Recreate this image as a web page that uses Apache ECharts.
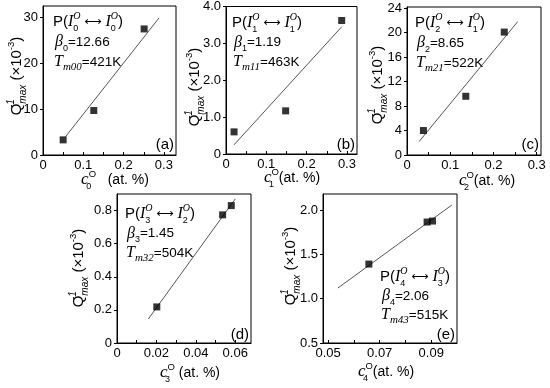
<!DOCTYPE html>
<html><head><meta charset="utf-8">
<script src="https://cdn.jsdelivr.net/npm/echarts@6/dist/echarts.min.js"></script>
<style>html,body{margin:0;padding:0;background:#fff}#c{width:550px;height:388px}</style>
</head><body><div id="c"></div>
<script>
// ---------- data ----------
const xA = [0.05, 0.126, 0.251];
const yA = [3.3, 9.7, 27.5];
const fitA = [[0.056, 4.0], [0.288, 29.9]];

const xB = [0.02, 0.148, 0.287];
const yB = [0.6, 1.17, 3.62];
const fitB = [[0.02, 0.25], [0.287, 3.45]];

const xC = [0.038, 0.136, 0.225];
const yC = [4.0, 9.6, 20.1];
const fitC = [[0.028, 2.2], [0.256, 21.8]];

const xD = [0.0202, 0.0536, 0.058];
const yD = [0.218, 0.774, 0.83];
const fitD = [[0.0159, 0.145], [0.06, 0.87]];

const xE = [0.0658, 0.0884, 0.0905];
const yE = [1.39, 1.864, 1.875];
const fitE = [[0.0538, 1.12], [0.098, 2.056]];

// ---------- tick labels ----------
const xTicksABC = [0, 0.1, 0.2, 0.3];
const xLabelsABC = ['0', '0.1', '0.2', '0.3'];
const xMinorABC = [0.05, 0.15, 0.25];
const yTicksA = [0, 10, 20, 30];
const yLabelsA = ['0', '10', '20', '30'];
const yTicksB = [0, 1, 2, 3, 4];
const yLabelsB = ['0', '1.0', '2.0', '3.0', '4.0'];
const yTicksC = [0, 4, 8, 12, 16, 20, 24];
const yLabelsC = ['0', '4', '8', '12', '16', '20', '24'];
const xTicksD = [0, 0.02, 0.04, 0.06];
const xLabelsD = ['0', '0.02', '0.04', '0.06'];
const xMinorD = [0.01, 0.03, 0.05];
const yTicksD = [0, 0.2, 0.4, 0.6, 0.8];
const yLabelsD = ['0', '0.2', '0.4', '0.6', '0.8'];
const xTicksE = [0.05, 0.07, 0.09];
const xLabelsE = ['0.05', '0.07', '0.09'];
const xMinorE = [0.06, 0.08];
const yTicksE = [0.5, 1.0, 1.5, 2.0];
const yLabelsE = ['0.5', '1.0', '1.5', '2.0'];

// ---------- annotation texts ----------
const pFrom = ['0', '1', '2', '3', '4'];
const pTo = ['0', '1', '1', '2', '3'];
const betaVals = ['12.66', '1.19', '8.65', '1.45', '2.06'];
const tmSubs = ['m00', 'm11', 'm21', 'm32', 'm43'];
const tmVals = ['421K', '463K', '522K', '504K', '515K'];
const panelTags = ['(a)', '(b)', '(c)', '(d)', '(e)'];

// ---------- layout ----------
const SANS = '"Liberation Sans", Arial, sans-serif';
const SERIF = '"Liberation Serif", "Times New Roman", serif';

const panels = [
  {grid:{left:43,top:6,width:133,height:149}, x:xA, y:yA, fit:fitA, xr:[0,0.33], yr:[0,32.5],
   xt:xTicksABC, xl:xLabelsABC, xm:xMinorABC, yt:yTicksA, yl:yLabelsA,
   ann:[53,22,20], xname:[115,180,'0','   '], yname:[17,76], tag:[174,145]},
  {grid:{left:226,top:6,width:131,height:148}, x:xB, y:yB, fit:fitB, xr:[0,0.325], yr:[0,4.0],
   xt:xTicksABC, xl:xLabelsABC, xm:xMinorABC, yt:yTicksB, yl:yLabelsB,
   ann:[232,23,19.5], xname:[292,178,'1',''], yname:[195,87], tag:[355,145]},
  {grid:{left:407,top:7,width:134,height:148}, x:xC, y:yC, fit:fitC, xr:[0,0.31], yr:[0,24.2],
   xt:xTicksABC, xl:xLabelsABC, xm:xMinorABC, yt:yTicksC, yl:yLabelsC,
   ann:[415,23,20], xname:[487,181,'2',''], yname:[378,85], tag:[539,145]},
  {grid:{left:117,top:194,width:134,height:149}, x:xD, y:yD, fit:fitD, xr:[0,0.068], yr:[0,0.9],
   xt:xTicksD, xl:xLabelsD, xm:xMinorD, yt:yTicksD, yl:yLabelsD,
   ann:[125,214,19.5], xname:[190,373,'3',' '], yname:[79,268], tag:[249,335]},
  {grid:{left:323,top:194,width:134,height:149}, x:xE, y:yE, fit:fitE, xr:[0.048,0.1], yr:[0.5,2.18],
   xt:xTicksE, xl:xLabelsE, xm:xMinorE, yt:yTicksE, yl:yLabelsE,
   ann:[380,277,19], xname:[386,372,'4',''], yname:[291,266], tag:[455,335]}
];

const rich = {
  n:   {fontFamily:SANS, fontSize:13.5, color:'#000', lineHeight:22},
  pn:  {fontFamily:SANS, fontSize:15, color:'#000', lineHeight:22},
  ar:  {fontFamily:'"DejaVu Sans", sans-serif', fontSize:12, color:'#000', lineHeight:22},
  I:   {fontFamily:SERIF, fontStyle:'italic', fontSize:16, color:'#000', lineHeight:22},
  g:   {fontFamily:SERIF, fontStyle:'italic', fontSize:16, color:'#000', lineHeight:22},
  sbz: {fontFamily:SANS, fontSize:9, color:'#000', lineHeight:10, verticalAlign:'bottom', width:0},
  sb:  {fontFamily:SANS, fontSize:9, color:'#000', lineHeight:10, verticalAlign:'bottom'},
  sbi: {fontFamily:SERIF, fontStyle:'italic', fontSize:11, color:'#000', lineHeight:12, verticalAlign:'bottom'},
  spi: {fontFamily:SERIF, fontStyle:'italic', fontSize:10, color:'#000', lineHeight:11, verticalAlign:'top'},
  sp:  {fontFamily:SANS, fontSize:9.5, color:'#000', lineHeight:11, verticalAlign:'top'},
  c:   {fontFamily:SERIF, fontStyle:'italic', fontSize:17, color:'#000', lineHeight:22},
  an:  {fontFamily:SANS, fontSize:14, color:'#000', lineHeight:22},
  Q:   {fontFamily:SANS, fontSize:15, color:'#000', lineHeight:22},
  qsp: {fontFamily:SANS, fontStyle:'italic', fontSize:10, color:'#000', lineHeight:11, verticalAlign:'top', width:0},
  qsb: {fontFamily:SANS, fontStyle:'italic', fontSize:10, color:'#000', lineHeight:11, verticalAlign:'bottom'}
};

function pick(ticks, labels) {
  return function (v) {
    for (let i = 0; i < ticks.length; i++) if (Math.abs(ticks[i] - v) < 1e-9) return labels[i];
    return '';
  };
}

const grids = [], xAxes = [], yAxes = [], series = [], graphics = [];
panels.forEach(function (p, i) {
  grids.push(Object.assign({show:true, borderColor:'#000', borderWidth:1, containLabel:false}, p.grid));
  xAxes.push({
    type:'value', gridIndex:i, min:p.xr[0], max:p.xr[1],
    axisLine:{show:true, lineStyle:{color:'#000', width:1}},
    axisTick:{show:true, inside:true, length:3, customValues:p.xt.concat(p.xm), lineStyle:{color:'#000'}},
    axisLabel:{customValues:p.xt, formatter:pick(p.xt, p.xl), margin:4, color:'#000', fontSize:13, fontFamily:SANS},
    splitLine:{show:false}
  });
  yAxes.push({
    type:'value', gridIndex:i, min:p.yr[0], max:p.yr[1],
    axisLine:{show:true, lineStyle:{color:'#000', width:1}},
    axisTick:{show:true, inside:false, length:3, customValues:p.yt, lineStyle:{color:'#000'}},
    axisLabel:{customValues:p.yt, formatter:pick(p.yt, p.yl), margin:5, color:'#000', fontSize:13, fontFamily:SANS},
    splitLine:{show:false}
  });
  series.push({
    type:'line', xAxisIndex:i, yAxisIndex:i, data:p.fit, symbol:'none', silent:true,
    lineStyle:{color:'#555', width:1}, z:2
  });
  series.push({
    type:'scatter', xAxisIndex:i, yAxisIndex:i,
    data:p.x.map(function (v, k) { return [v, p.y[k]]; }),
    symbol:'rect', symbolSize:7, itemStyle:{color:'#000'}, z:3
  });

  const ax = p.ann[0], ay = p.ann[1], dy = p.ann[2];
  graphics.push({type:'text', x:ax, y:ay, z:10, style:{
    text:'{pn|P(}{I|I}{sbz|' + pFrom[i] + '}{spi|O}{ar| ⟷ }{I|I}{sbz|' + pTo[i] + '}{spi|O}{pn|)}',
    rich:rich, align:'left', verticalAlign:'middle'}});
  graphics.push({type:'text', x:ax + 2, y:ay + dy, z:10, style:{
    text:'{g|β}{sb|' + pFrom[i] + '}{n|=' + betaVals[i] + '}',
    rich:rich, align:'left', verticalAlign:'middle'}});
  graphics.push({type:'text', x:ax + 1, y:ay + 2 * dy, z:10, style:{
    text:'{g|T}{sbi|' + tmSubs[i] + '}{n|=' + tmVals[i] + '}',
    rich:rich, align:'left', verticalAlign:'middle'}});
  // x axis name
  graphics.push({type:'text', x:p.xname[0], y:p.xname[1], z:10, style:{
    text:'{c|c}{sbz|' + p.xname[2] + '}{sp|O}{an|' + p.xname[3] + '(at. %)}',
    rich:rich, align:'center', verticalAlign:'middle'}});
  // y axis name
  graphics.push({type:'text', x:p.yname[0], y:p.yname[1], rotation:Math.PI / 2, z:10, style:{
    text:'{Q|Q}{qsp|-1}{qsb|max}{Q| (×10}{sp|-3}{Q|)}',
    rich:rich, align:'center', verticalAlign:'middle'}});
  // panel tag
  graphics.push({type:'text', x:p.tag[0], y:p.tag[1], z:10, style:{
    text:panelTags[i], font:'15px ' + SANS, fill:'#000', align:'right', verticalAlign:'middle'}});
});

const chart = echarts.init(document.getElementById('c'), null, {renderer:'canvas'});
chart.setOption({
  animation:false,
  backgroundColor:'#fff',
  grid:grids, xAxis:xAxes, yAxis:yAxes, series:series, graphic:graphics
});
</script>
</body></html>
